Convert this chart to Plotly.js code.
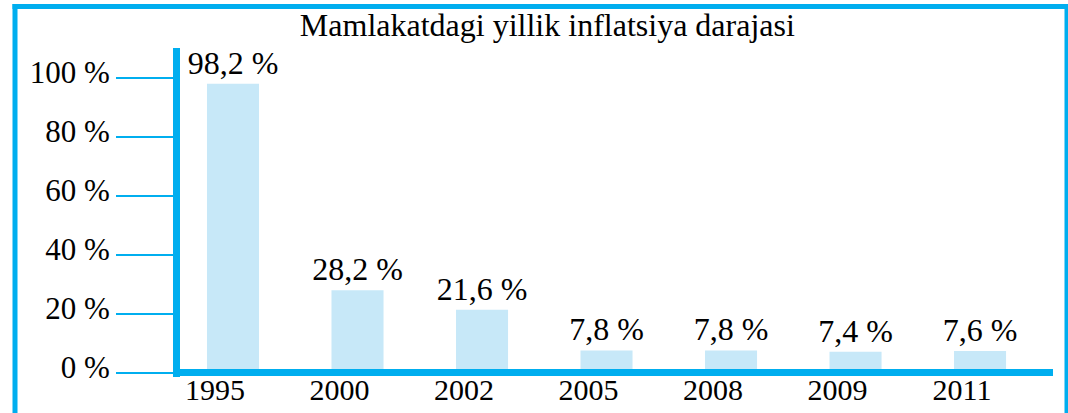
<!DOCTYPE html>
<html>
<head>
<meta charset="utf-8">
<script src="https://cdn.plot.ly/plotly-3.0.1.min.js"></script>
<style>
  html, body { margin: 0; padding: 0; background: #ffffff; }
  #chart { width: 1068px; height: 413px; }
</style>
</head>
<body>
<div id="chart"></div>
<script>
// ---- data ----
const years = ["1995", "2000", "2002", "2005", "2008", "2009", "2011"];
const inflation = [98.2, 28.2, 21.6, 7.8, 7.8, 7.4, 7.6];
const yTickValues = [0, 20, 40, 60, 80, 100];
const yTickLabels = ["0 %", "20 %", "40 %", "60 %", "80 %", "100 %"];
const chartTitle = "Mamlakatdagi yillik inflatsiya darajasi";

// ---- style ----
const CYAN = "#00aeef";
const BAR = "#c7e8f8";
const FONT = "Liberation Serif, Times New Roman, serif";

const labels = inflation.map(v => v.toFixed(1).replace(".", ",") + " %");

const trace = {
  type: "bar",
  x: years,
  y: inflation,
  width: 0.418,
  marker: { color: BAR, line: { width: 0 } },
  text: labels,
  textposition: "outside",
  constraintext: "none",
  textfont: { family: FONT, size: 32, color: "#000" },
  cliponaxis: false,
  hoverinfo: "skip"
};

const layout = {
  width: 1068,
  height: 413,
  margin: { l: 180, r: 15, t: 48, b: 36, pad: 0 },
  paper_bgcolor: "#fff",
  plot_bgcolor: "#fff",
  showlegend: false,
  font: { family: FONT, color: "#000" },
  title: {
    text: chartTitle,
    font: { family: FONT, size: 32, color: "#000" },
    x: 0.5125, xanchor: "center",
    y: 0.94, yanchor: "middle", yref: "container"
  },
  xaxis: {
    type: "category",
    range: [-0.4257, 6.586],
    showgrid: false,
    zeroline: false,
    showline: false,
    ticks: "",
    ticklabelstandoff: -8,
    ticklabelshift: -18,
    tickfont: { family: FONT, size: 30, color: "#000" },
    fixedrange: true
  },
  yaxis: {
    range: [-1.19, 110.3],
    showgrid: false,
    zeroline: false,
    showline: true,
    linecolor: CYAN,
    linewidth: 7,
    ticks: "outside",
    ticklen: 57,
    tickwidth: 2,
    tickcolor: CYAN,
    tickvals: yTickValues,
    ticktext: yTickLabels,
    ticklabelshift: -6,
    tickfont: { family: FONT, size: 31, color: "#000" },
    fixedrange: true
  },
  shapes: [
    // x axis line
    { type: "line", xref: "paper", yref: "paper", x0: -0.008, x1: 1.0, y0: 0.013678, y1: 0.013678,
      line: { color: CYAN, width: 7 }, layer: "above" },
    // frame: left
    { type: "line", xref: "paper", yref: "paper", x0: -0.189, x1: -0.189, y0: 1.1337, y1: -0.2,
      line: { color: CYAN, width: 5 }, layer: "above" },
    // frame: top
    { type: "line", xref: "paper", yref: "paper", x0: -0.1919, x1: 1.02, y0: 1.12614, y1: 1.12614,
      line: { color: CYAN, width: 5 }, layer: "above" },
    // frame: right
    { type: "line", xref: "paper", yref: "paper", x0: 1.01546, x1: 1.01546, y0: 1.1337, y1: -0.2,
      line: { color: CYAN, width: 4 }, layer: "above" }
  ]
};

Plotly.newPlot("chart", [trace], layout, { displayModeBar: false, staticPlot: true });
</script>
</body>
</html>
